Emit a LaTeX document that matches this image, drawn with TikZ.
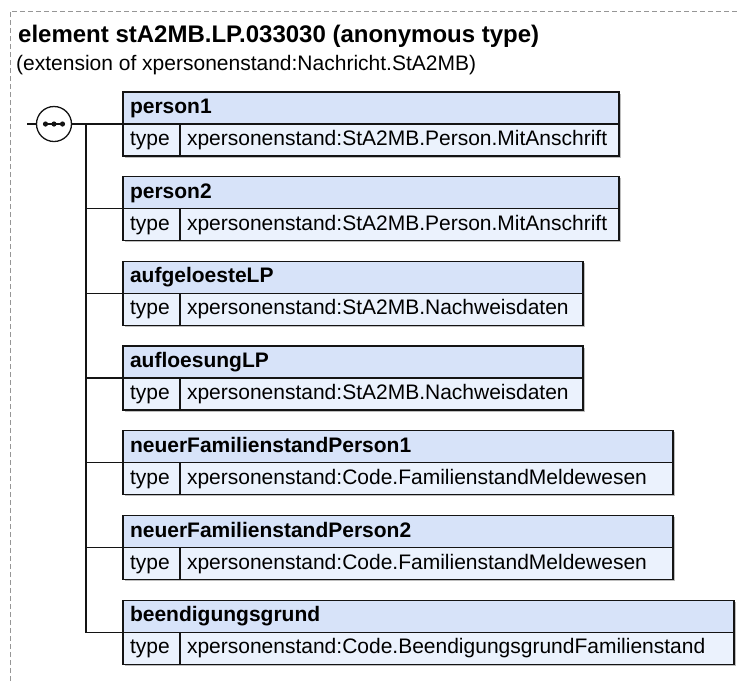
\documentclass[tikz,border=0pt]{standalone}
\usepackage{fontspec}
\setmainfont{Liberation Sans}
\usepackage{tikz}
\usetikzlibrary{positioning, shadows}
\definecolor{mydark}{RGB}{20,20,20}
\definecolor{mygray}{RGB}{150,150,150}
\definecolor{myshadow}{RGB}{190,190,190}
\definecolor{hdrblue}{RGB}{215,227,249}
\definecolor{rowblue}{RGB}{235,242,253}
\newcommand{\xsdfont}{\fontsize{21}{25}\selectfont}
\newcommand{\xsdtitlefont}{\fontsize{24}{29}\selectfont\bfseries}
\tikzset{
  elemhdr/.style={rectangle, draw=mydark, fill=hdrblue, line width=1.3pt,
    text width=#1, align=left, inner xsep=7pt, inner ysep=0pt, outer sep=0pt,
    minimum height=32pt, text height=15pt, text depth=4pt,
    font=\xsdfont\bfseries,
    drop shadow={shadow xshift=1.6pt, shadow yshift=-1.6pt, fill=myshadow, opacity=1}},
  typecell/.style={rectangle, draw=mydark, fill=rowblue, line width=1.3pt,
    text width=#1, align=left, inner xsep=7pt, inner ysep=0pt, outer sep=0pt,
    minimum height=32pt, text height=15pt, text depth=4pt, font=\xsdfont,
    drop shadow={shadow xshift=1.6pt, shadow yshift=-1.6pt, fill=myshadow, opacity=1}},
  seqnode/.style={circle, draw=mydark, fill=white, line width=1.3pt,
    minimum size=35pt, inner sep=0pt, outer sep=0pt},
  conn/.style={line width=1.3pt, color=mydark}
}

\begin{document}
\begin{tikzpicture}[x=1pt, y=-1pt]
  \useasboundingbox (0,0) rectangle (737,681);
  \draw[mygray, line width=1pt, dash pattern=on 5pt off 3pt] (10,681) -- (10,11) -- (737,11);

  \node[anchor=base west, font=\xsdtitlefont, inner sep=0pt] (title) at (18,42) {element stA2MB.LP.033030 (anonymous type)};
  \node[anchor=base west, font=\xsdfont, inner sep=0pt] (ext) at (16,70) {(extension of xpersonenstand:Nachricht.StA2MB)};

  % sequence compositor
  \node[seqnode] (seq) at (54,124) {};
  \draw[conn] ([xshift=-9pt]seq.center) -- ([xshift=9pt]seq.center);
  \fill[mydark] ([xshift=-8.5pt]seq.center) circle (2.6pt)
                (seq.center) circle (2.6pt)
                ([xshift=8.5pt]seq.center) circle (2.6pt);
  \coordinate (in) at (27,124);
  \coordinate (trunk) at (86,124);

  % elements
  \node[elemhdr=482pt, anchor=north west] (h1) at (123,92) {person1};
  \node[typecell=43pt, below=0pt of h1.south west, anchor=north west] (t1) {type};
  \node[typecell=425pt, right=0pt of t1] (v1) {xpersonenstand:StA2MB.Person.MitAnschrift};

  \node[elemhdr=482pt, below=20.7pt of t1.south west, anchor=north west] (h2) {person2};
  \node[typecell=43pt, below=0pt of h2.south west, anchor=north west] (t2) {type};
  \node[typecell=425pt, right=0pt of t2] (v2) {xpersonenstand:StA2MB.Person.MitAnschrift};

  \node[elemhdr=446pt, below=20.7pt of t2.south west, anchor=north west] (h3) {aufgeloesteLP};
  \node[typecell=43pt, below=0pt of h3.south west, anchor=north west] (t3) {type};
  \node[typecell=389pt, right=0pt of t3] (v3) {xpersonenstand:StA2MB.Nachweisdaten};

  \node[elemhdr=446pt, below=20.7pt of t3.south west, anchor=north west] (h4) {aufloesungLP};
  \node[typecell=43pt, below=0pt of h4.south west, anchor=north west] (t4) {type};
  \node[typecell=389pt, right=0pt of t4] (v4) {xpersonenstand:StA2MB.Nachweisdaten};

  \node[elemhdr=536pt, below=20.7pt of t4.south west, anchor=north west] (h5) {neuerFamilienstandPerson1};
  \node[typecell=43pt, below=0pt of h5.south west, anchor=north west] (t5) {type};
  \node[typecell=479pt, right=0pt of t5] (v5) {xpersonenstand:Code.FamilienstandMeldewesen};

  \node[elemhdr=536pt, below=20.7pt of t5.south west, anchor=north west] (h6) {neuerFamilienstandPerson2};
  \node[typecell=43pt, below=0pt of h6.south west, anchor=north west] (t6) {type};
  \node[typecell=479pt, right=0pt of t6] (v6) {xpersonenstand:Code.FamilienstandMeldewesen};

  \node[elemhdr=597pt, below=20.7pt of t6.south west, anchor=north west] (h7) {beendigungsgrund};
  \node[typecell=43pt, below=0pt of h7.south west, anchor=north west] (t7) {type};
  \node[typecell=540pt, right=0pt of t7] (v7) {xpersonenstand:Code.BeendigungsgrundFamilienstand};

  % connectors
  \draw[conn] (in) -- (seq.west);
  \draw[conn] (seq.east) -- (h1.south west);
  \draw[conn] (trunk) |- (h7.south west);
  \draw[conn] (trunk |- h2.south west) -- (h2.south west);
  \draw[conn] (trunk |- h3.south west) -- (h3.south west);
  \draw[conn] (trunk |- h4.south west) -- (h4.south west);
  \draw[conn] (trunk |- h5.south west) -- (h5.south west);
  \draw[conn] (trunk |- h6.south west) -- (h6.south west);
\end{tikzpicture}
\end{document}
